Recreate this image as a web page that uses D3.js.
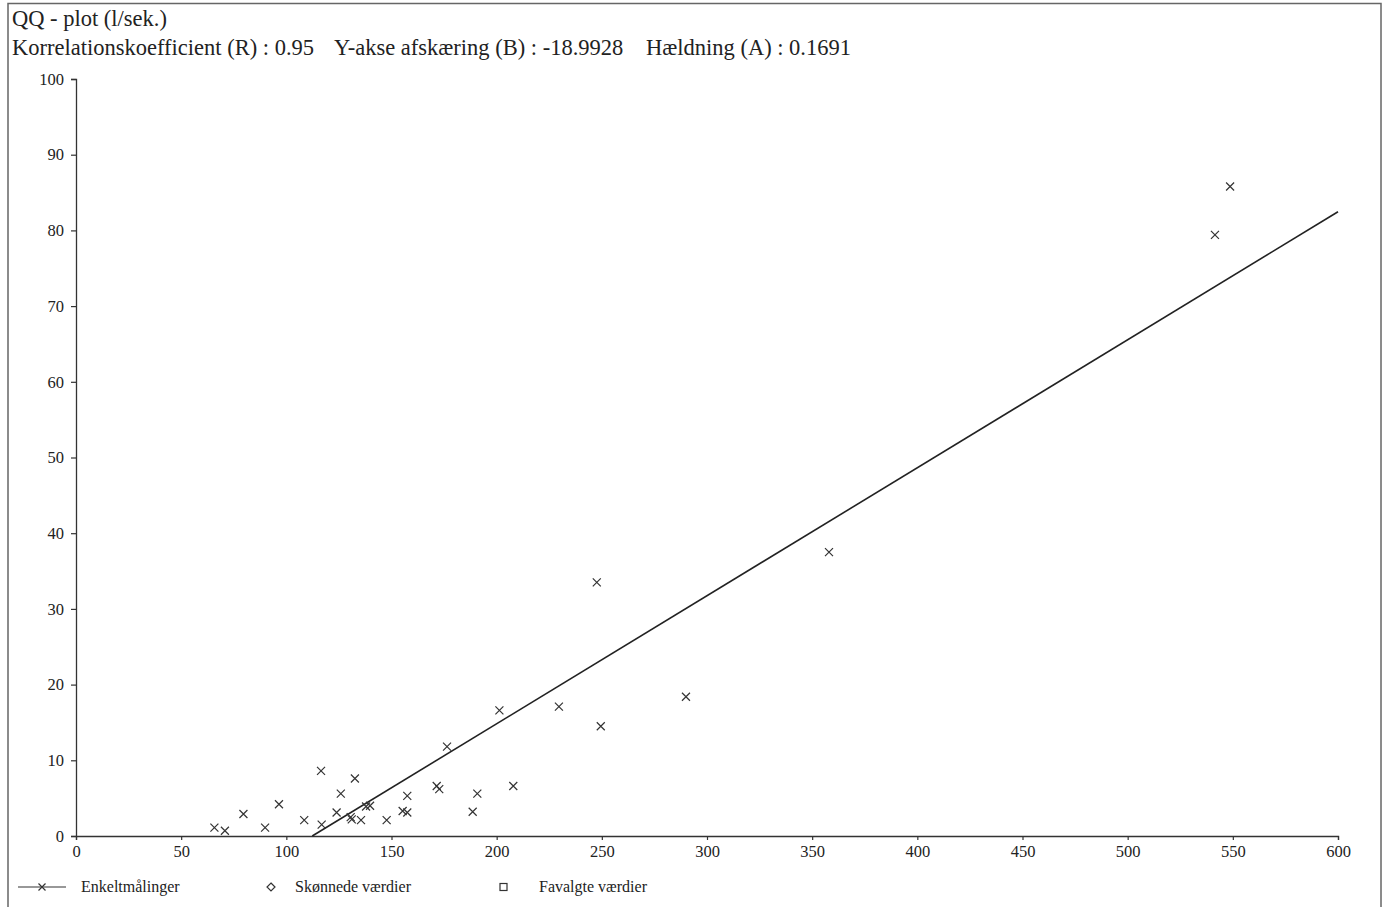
<!DOCTYPE html>
<html><head><meta charset="utf-8">
<script src="https://cdn.jsdelivr.net/npm/d3@7"></script>
<style>
body{margin:0;background:#fff;}
svg{display:block;font-family:"Liberation Serif","Times New Roman",serif;}
</style></head>
<body><svg id="c" width="1386" height="907"></svg>
<script>
const title = "QQ - plot (l/sek.)";
const subtitleParts = ["Korrelationskoefficient (R) : 0.95","Y-akse afskæring (B) : -18.9928","Hældning (A) : 0.1691"];
const slope = 0.1691, intercept = -18.9928;
const xTicks = [0,50,100,150,200,250,300,350,400,450,500,550,600];
const yTicks = [0,10,20,30,40,50,60,70,80,90,100];
const xVals = [65.8,70.8,79.6,89.9,96.5,108.5,116.5,116.8,123.9,125.9,130.6,131.1,132.6,135.5,137.9,139.8,147.7,155.3,157.5,157.5,171.5,172.7,176.4,188.6,190.8,201.3,207.9,229.6,247.6,249.5,290.0,358.0,541.5,548.7];
const yVals = [1.1,0.7,2.9,1.1,4.2,2.1,8.6,1.5,3.1,5.6,2.5,2.2,7.6,2.1,3.9,4.0,2.1,3.3,3.1,5.3,6.6,6.2,11.8,3.2,5.6,16.6,6.6,17.1,33.5,14.5,18.4,37.5,79.4,85.8];
const legendLabels = ["Enkeltmålinger","Skønnede værdier","Favalgte værdier"];

const svg = d3.select("#c");
const ink = "#333";
svg.append("rect").attr("x",8).attr("y",3.5).attr("width",1373).attr("height",1001)
  .attr("fill","none").attr("stroke","#666").attr("stroke-width",1.5);

svg.append("text").attr("x",12).attr("y",26).attr("font-size",22.5).attr("fill","#222").text(title);
[12,334,646].forEach((sx,i)=>{
  svg.append("text").attr("x",sx).attr("y",55).attr("font-size",22.5).attr("fill","#222").text(subtitleParts[i]);
});

const x = d3.scaleLinear().domain([0,600]).range([76,1338]);
const y = d3.scaleLinear().domain([0,100]).range([836,79]);

const xa = svg.append("g").attr("transform","translate(0,836)")
  .call(d3.axisBottom(x).tickValues(xTicks).tickSize(4).tickPadding(5).tickFormat(d3.format("d")));
const ya = svg.append("g").attr("transform","translate(76,0)")
  .call(d3.axisLeft(y).tickValues(yTicks).tickSize(5).tickPadding(7).tickFormat(d3.format("d")));
[xa,ya].forEach(g=>{
  g.attr("font-size",16.5).attr("font-family","'Liberation Serif',serif");
  g.select(".domain").attr("stroke",ink).attr("stroke-width",1.3);
  g.selectAll(".tick line").attr("stroke",ink).attr("stroke-width",1.2);
  g.selectAll(".tick text").attr("fill","#222");
});

// regression line
const x0 = -intercept/slope;
svg.append("line").attr("x1",x(x0)).attr("y1",y(0)).attr("x2",x(600)).attr("y2",y(slope*600+intercept))
  .attr("stroke","#222").attr("stroke-width",1.6);

// points
const s = 4;
const pts = svg.append("g").attr("stroke",ink).attr("stroke-width",1.2);
xVals.forEach((v,i)=>{
  const px = x(v), py = y(yVals[i]);
  pts.append("path").attr("d",`M${px-s},${py-s}L${px+s},${py+s}M${px-s},${py+s}L${px+s},${py-s}`);
});

// legend
const ly = 887;
const lg = svg.append("g").attr("stroke",ink).attr("stroke-width",1.2).attr("fill","none");
lg.append("line").attr("x1",18).attr("x2",66).attr("y1",ly).attr("y2",ly);
lg.append("path").attr("d",`M${42-3.5},${ly-3.5}L${42+3.5},${ly+3.5}M${42-3.5},${ly+3.5}L${42+3.5},${ly-3.5}`);
lg.append("path").attr("d",`M271,${ly-4}L275,${ly}L271,${ly+4}L267,${ly}Z`);
lg.append("rect").attr("x",500).attr("y",ly-3.5).attr("width",7).attr("height",7);
[[81,0],[295,1],[539,2]].forEach(([lx,i])=>{
  svg.append("text").attr("x",lx).attr("y",ly+5).attr("font-size",16).attr("fill","#222").text(legendLabels[i]);
});
</script></body></html>
